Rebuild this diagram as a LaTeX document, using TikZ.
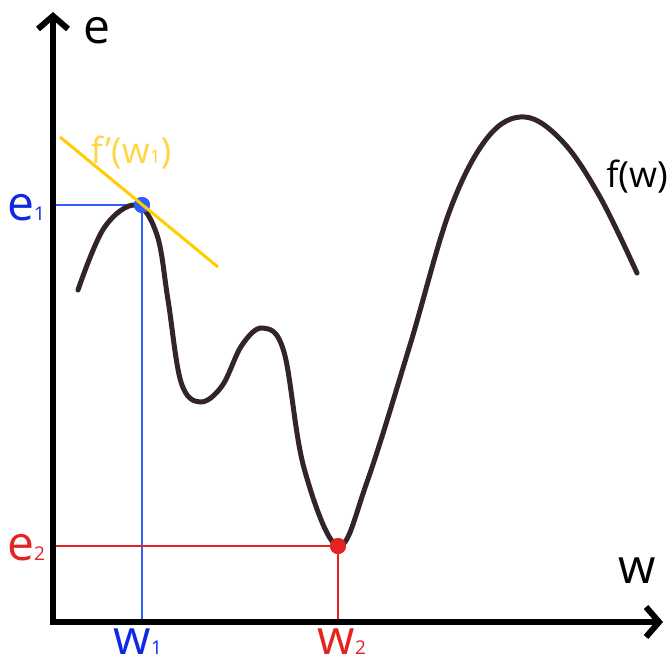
\documentclass[tikz,border=0pt]{standalone}
\usepackage{fontspec}
\setmainfont{Open Sans}
\usetikzlibrary{arrows.meta}
\definecolor{curvecol}{RGB}{50,35,45}
\definecolor{lineblue}{RGB}{45,95,255}
\definecolor{labblue}{RGB}{15,40,230}
\definecolor{minred}{RGB}{228,35,35}
\definecolor{tangcol}{RGB}{255,205,0}
\definecolor{tanglab}{RGB}{255,214,70}
\newcommand{\smallidx}[1]{{\fontsize{19}{19}\selectfont #1}}
\tikzset{
  axis/.style={line width=6pt, -{Straight Barb[length=13pt, width=30pt]}},
  fcurve/.style={line width=5pt, curvecol, line cap=round, line join=round},
  tangent/.style={line width=3pt, tangcol},
  projblue/.style={line width=1.3pt, lineblue},
  projred/.style={line width=1.3pt, minred},
  dot/.style={circle, fill=#1, inner sep=0pt, minimum size=16pt},
  biglab/.style={anchor=base, inner sep=0pt, text depth=0pt,
                 font=\fontsize{48}{48}\selectfont},
  smalllab/.style={anchor=base, inner sep=0pt, font=\fontsize{36}{36}\selectfont}
}
\begin{document}
\begin{tikzpicture}[x=1pt, y=-1pt]
  \useasboundingbox (0,0) rectangle (670,664);

  % axes
  \coordinate (o) at (53,622);
  \coordinate (etop) at (53,12);
  \coordinate (wend) at (663,622);

  % points on the curve
  \node[dot=lineblue] (p1) at (142,205) {};
  \node[dot=minred] (p2) at (338,546) {};

  % projections
  \draw[projblue] (p1.center) -- (p1.center -| o);
  \draw[projblue] (p1.center) -- (p1.center |- o);
  \draw[projred] (p2.center) -- (p2.center -| o);
  \draw[projred] (p2.center) -- (p2.center |- o);

  \draw[axis] (o) -- (etop);
  \draw[axis] ([xshift=-3pt]o) -- (wend);

  % f(w)
  \draw[fcurve] plot[smooth, tension=0.6] coordinates {
    (78,290) (104,228) (136,205) (157,235) (168,300) (181,382) (200,402)
    (222,386) (242,345) (263,328) (284,352) (304,468) (338,546) (367,482)
    (410,345) (450,210) (488,137) (525,117) (563,142) (600,197) (637,273)};

  \node[dot=lineblue] at (p1) {};
  \node[dot=minred] at (p2) {};

  % tangent at w1
  \coordinate (t1) at (60,137);
  \coordinate (t2) at (218,267);
  \draw[tangent] (t1) -- (t2);

  % labels
  \node[biglab] (elab) at (97,43) {e};
  \node[biglab] (wlab) at (637,583) {w};
  \node[smalllab] (flab) at (637,187) {f(w)};
  \node[smalllab, text=tanglab] (dlab) at (131,163) {f’(w\smallidx{1})};
  \node[biglab, text=labblue] (e1lab) at (26,220) {e\smallidx{1}};
  \node[biglab, text=minred] (e2lab) at (26,560) {e\smallidx{2}};
  \node[biglab, text=labblue] (w1lab) at (138,654) {w\smallidx{1}};
  \node[biglab, text=minred] (w2lab) at (342,654) {w\smallidx{2}};
\end{tikzpicture}
\end{document}
